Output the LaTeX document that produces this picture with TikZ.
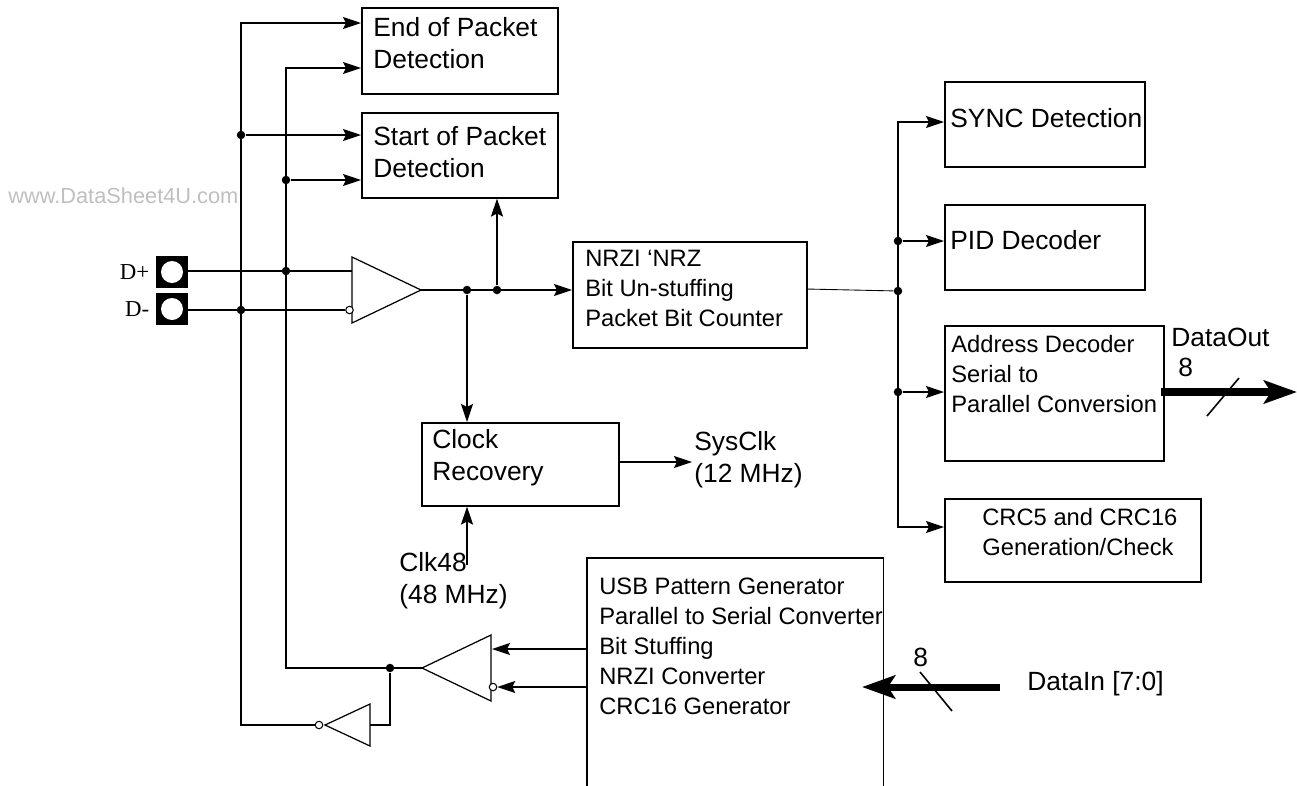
\documentclass[tikz,border=0pt]{standalone}
\usepackage{fontspec}
\setmainfont{Liberation Sans}
\newfontfamily\padfont{Liberation Serif}
\usetikzlibrary{shapes.geometric, arrows.meta, positioning, calc}

\begin{document}
\begin{tikzpicture}[
    x=0.02cm, y=-0.02cm,
    block/.style={draw, line width=0.9pt, anchor=north west, inner sep=0pt},
    biglabel/.style={anchor=north west, inner sep=0pt, align=left, font=\fontsize{15}{18.1}\selectfont},
    smalllabel/.style={anchor=north west, inner sep=0pt, align=left, font=\fontsize{13.5}{17}\selectfont},
    wire/.style={line width=0.9pt},
    thinwire/.style={line width=0.5pt},
    gate/.style={draw, line width=0.7pt, isosceles triangle, isosceles triangle stretches, inner sep=0pt, outer sep=0pt, anchor=apex},
    bubble/.style={draw, circle, fill=white, line width=0.6pt, inner sep=0pt, minimum size=0.15cm},
    junction/.style={circle, fill=black, inner sep=0pt, minimum size=0.17cm},
    pad/.style={fill=black, inner sep=0pt, minimum size=0.64cm},
    padhole/.style={circle, fill=white, inner sep=0pt, minimum size=0.44cm},
    padlabel/.style={inner sep=0pt, font=\padfont\fontsize{13}{15}\selectfont},
    bus/.style={line width=4pt, -{Stealth[length=6.6mm,width=4.6mm,inset=1.4mm]}},
    >={Stealth[length=3.6mm,width=2.4mm,inset=0.6mm]}
]
\useasboundingbox (0,0) rectangle (1297,785);

% Blocks
\node[block, minimum width=3.92cm, minimum height=1.72cm] (eop) at (361,7) {};
\node[block, minimum width=3.92cm, minimum height=1.70cm] (sop) at (361,112) {};
\node[block, minimum width=4.68cm, minimum height=2.12cm] (nrz) at (572,241) {};
\node[block, minimum width=3.94cm, minimum height=1.66cm] (clk) at (421,422) {};
\node[block, minimum width=4.00cm, minimum height=1.70cm] (sync) at (944,81) {};
\node[block, minimum width=4.00cm, minimum height=1.70cm] (pid) at (944,204) {};
\node[block, minimum width=4.38cm, minimum height=2.70cm] (addr) at (944,325) {};
\node[block, minimum width=5.12cm, minimum height=1.66cm] (crc) at (944,498) {};
\node[anchor=north west, inner sep=0pt, minimum width=5.92cm, minimum height=4.54cm] (usb) at (587,558) {};
\draw[wire] (usb.south west) -- (usb.north west) -- (usb.north east) -- (usb.south east);

% Block texts
\node[biglabel] (eoptext) at (373,17.5) {End of Packet\\Detection};
\node[biglabel] (soptext) at (373,126) {Start of Packet\\Detection};
\node[smalllabel] (nrztext) at (585,250) {NRZI `NRZ\\Bit Un-stuffing\\Packet Bit Counter};
\node[biglabel] (clktext) at (432,429) {Clock\\Recovery};
\node[biglabel] (synctext) at (950,108) {SYNC Detection};
\node[biglabel] (pidtext) at (950,230) {PID Decoder};
\node[smalllabel] (addrtext) at (951,335) {Address Decoder\\Serial to\\Parallel Conversion};
\node[smalllabel] (crctext) at (982,508) {CRC5 and CRC16\\Generation/Check};
\node[smalllabel] (usbtext) at (599,578) {USB Pattern Generator\\Parallel to Serial Converter\\Bit Stuffing\\NRZI Converter\\CRC16 Generator};

% Pads
\node[pad] (padp) at (172,272) {};
\node[padhole] at (padp) {};
\node[pad] (padm) at (172,309) {};
\node[padhole] at (padm) {};
\node[padlabel, left=0.12cm of padp] (padptext) {D+};
\node[padlabel, left=0.12cm of padm] (padmtext) {D-};

% Gates
\node[gate, minimum width=1.32cm, minimum height=1.38cm] (rx) at (421,290) {};
\node[bubble] (rxinv) at (349.5,310) {};
\node[gate, shape border rotate=180, minimum width=1.32cm, minimum height=1.38cm] (tx) at (422,668) {};
\node[bubble] (txinv) at (493,687) {};
\node[gate, shape border rotate=180, minimum width=0.84cm, minimum height=0.90cm] (inv) at (325,725) {};
\node[bubble] (invout) at (319,725) {};

% Junctions
\node[junction] (jat) at (241,135) {};
\node[junction] (jbt) at (286,180) {};
\node[junction] (jbp) at (286,271) {};
\node[junction] (jam) at (241,310) {};
\node[junction] (jrxa) at (467,290) {};
\node[junction] (jrxb) at (497,290) {};
\node[junction] (jtx) at (390,668) {};
\node[junction] (jsync) at (898,241) {};
\node[junction] (jnrz) at (898,291) {};
\node[junction] (jaddr) at (898,392) {};
\coordinate (atop) at (241,23);
\coordinate (btop) at (286,68);
\coordinate (stop) at (898,122);
\coordinate (sbot) at (898,527);
\coordinate (invup) at (390,725);
\coordinate (nrzout) at (806,289);

% Left buses
\draw[->, wire] (invout.west) -| (atop) -- (atop -| eop.west);
\draw[->, wire] (tx.apex) -| (btop) -- (btop -| eop.west);
\draw[->, wire] (jat) -- (jat -| sop.west);
\draw[->, wire] (jbt) -- (jbt -| sop.west);

% Receiver
\draw[wire] (padp.east |- jbp) -- (jbp -| rx.lower side);
\draw[wire] (padm.east |- jam) -- (rxinv.west);
\draw[->, wire] (rx.apex) -- (jrxb -| nrz.west);
\draw[->, wire] (jrxb) -- (jrxb |- sop.south);
\draw[->, wire] (jrxa) -- (jrxa |- clk.north);

% Clock
\coordinate (clkin) at (467,565);
\coordinate (sysclk) at (692,462);
\draw[->, wire] (clk.east |- sysclk) -- (sysclk);
\draw[->, wire] (clkin) -- (clkin |- clk.south);
\node[biglabel] (sysclktext) at (694,431) {SysClk\\(12 MHz)};
\node[biglabel] (clkintext) at (399,552.5) {Clk48\\(48 MHz)};

% Right bus
\draw[thinwire] (nrzout) -- (jnrz);
\draw[<->, wire] (stop -| sync.west) -- (stop) -- (sbot) -- (sbot -| crc.west);
\draw[->, wire] (jsync) -- (jsync -| pid.west);
\draw[->, wire] (jaddr) -- (jaddr -| addr.west);

% Transmitter
\coordinate (txa) at (492,649);
\draw[->, wire] (usb.west |- txa) -- (txa);
\draw[->, wire] (usb.west |- txinv) -- (txinv.east);
\draw[line width=0.7pt] (inv.lower side) -- (invup) -- (jtx);

% Data buses
\coordinate (outstart) at (1161,392);
\coordinate (outend) at (1297,392);
\coordinate (instart) at (1000,687);
\coordinate (inend) at (862,687);
\draw[bus] (outstart) -- (outend);
\draw[bus] (instart) -- (inend);
\coordinate (outa) at (1207,416);
\coordinate (outb) at (1239,378);
\coordinate (ina) at (920,672);
\coordinate (inb) at (952,711);
\draw[wire] (outa) -- (outb);
\draw[wire] (ina) -- (inb);
\node[biglabel] (outtext) at (1171,328) {DataOut};
\node[biglabel] (outwidth) at (1178,358) {8};
\node[biglabel] (intext) at (1027,671) {DataIn [7:0]};
\node[biglabel] (inwidth) at (913,648) {8};

% Watermark
\node[anchor=west, inner sep=0pt, text=black!25, font=\fontsize{12.4}{14}\selectfont] (mark) at (8,196) {www.DataSheet4U.com};

\end{tikzpicture}
\end{document}
